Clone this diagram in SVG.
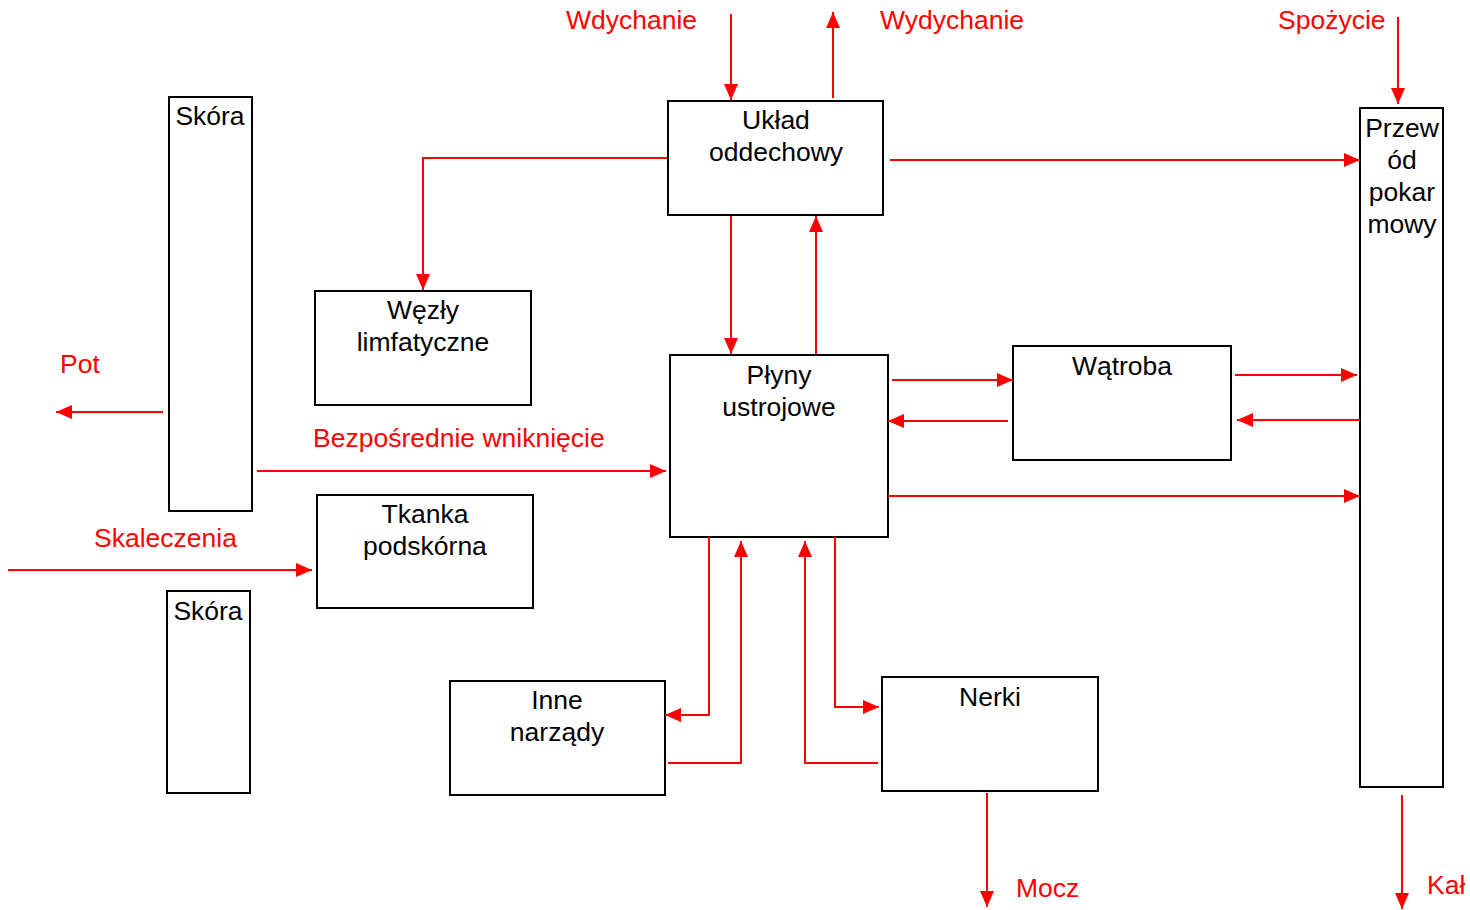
<svg xmlns="http://www.w3.org/2000/svg" width="1470" height="910" viewBox="0 0 1470 910">
<style>
.box{fill:#fff;stroke:#000;stroke-width:2}
.t{font-family:"Liberation Sans",Arial,sans-serif;font-size:26.5px;fill:#000;text-anchor:middle}
.r{font-family:"Liberation Sans",Arial,sans-serif;font-size:26.5px;fill:#ff0000}
.c{fill:none;stroke:#ff0000;stroke-width:2;marker-end:url(#a)}
</style>
<defs>
<marker id="a" markerUnits="userSpaceOnUse" markerWidth="17" markerHeight="15" refX="16" refY="7" orient="auto">
<path d="M0,0 L16,7 L0,14 z" fill="#ff0000"/>
</marker>
</defs>
<rect width="1470" height="910" fill="#fff"/>
<g id="skora1"><rect class="box" x="169" y="97" width="83" height="414"/><text class="t" x="210" y="125">Skóra</text></g>
<g id="skora2"><rect class="box" x="167" y="591" width="83" height="202"/><text class="t" x="208" y="620">Skóra</text></g>
<g id="uklad"><rect class="box" x="668" y="101" width="215" height="114"/><text class="t" x="776" y="129">Układ</text><text class="t" x="776" y="161">oddechowy</text></g>
<g id="wezly"><rect class="box" x="315" y="291" width="216" height="114"/><text class="t" x="423" y="319">Węzły</text><text class="t" x="423" y="351">limfatyczne</text></g>
<g id="plyny"><rect class="box" x="670" y="355" width="218" height="182"/><text class="t" x="779" y="384">Płyny</text><text class="t" x="779" y="416">ustrojowe</text></g>
<g id="watroba"><rect class="box" x="1013" y="346" width="218" height="114"/><text class="t" x="1122" y="375">Wątroba</text></g>
<g id="tkanka"><rect class="box" x="317" y="495" width="216" height="113"/><text class="t" x="425" y="523">Tkanka</text><text class="t" x="425" y="555">podskórna</text></g>
<g id="inne"><rect class="box" x="450" y="681" width="215" height="114"/><text class="t" x="557" y="709">Inne</text><text class="t" x="557" y="741">narządy</text></g>
<g id="nerki"><rect class="box" x="882" y="677" width="216" height="114"/><text class="t" x="990" y="706">Nerki</text></g>
<g id="przewod"><rect class="box" x="1360" y="108" width="83" height="679"/><text class="t" x="1402" y="137">Przew</text><text class="t" x="1402" y="169">ód</text><text class="t" x="1402" y="201">pokar</text><text class="t" x="1402" y="233">mowy</text></g>
<g id="connectors">
<path class="c" d="M731,14 V100"/>
<path class="c" d="M833,98 V12"/>
<path class="c" d="M667,158 H423 V290"/>
<path class="c" d="M890,160 H1360"/>
<path class="c" d="M1398,17 V104"/>
<path class="c" d="M731,216 V354"/>
<path class="c" d="M816,354 V216"/>
<path class="c" d="M892,380 H1013"/>
<path class="c" d="M1008,421 H888"/>
<path class="c" d="M1235,375 H1357"/>
<path class="c" d="M1360,420 H1237"/>
<path class="c" d="M888,496 H1360"/>
<path class="c" d="M163,412 H56"/>
<path class="c" d="M257,471 H666"/>
<path class="c" d="M8,570 H312"/>
<path class="c" d="M709,537 V715 H665"/>
<path class="c" d="M668,763 H741 V541"/>
<path class="c" d="M878,763 H805 V541"/>
<path class="c" d="M835,537 V707 H879"/>
<path class="c" d="M987,793 V907"/>
<path class="c" d="M1402,795 V909"/>
</g>
<g id="labels">
<text class="r" x="566" y="29">Wdychanie</text>
<text class="r" x="880" y="29">Wydychanie</text>
<text class="r" x="1278" y="29">Spożycie</text>
<text class="r" x="60" y="373">Pot</text>
<text class="r" x="313" y="447">Bezpośrednie wniknięcie</text>
<text class="r" x="94" y="547">Skaleczenia</text>
<text class="r" x="1016" y="897">Mocz</text>
<text class="r" x="1427" y="894">Kał</text>
</g>
</svg>
